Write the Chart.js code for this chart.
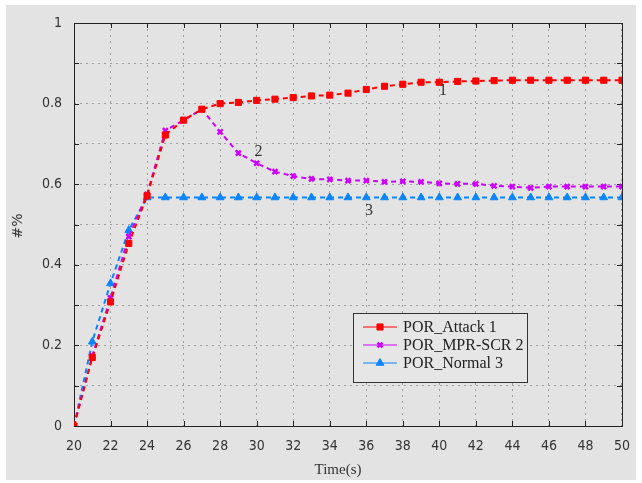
<!DOCTYPE html>
<html>
<head>
<meta charset="utf-8">
<script src="https://cdn.jsdelivr.net/npm/chart.js@4/dist/chart.umd.min.js"></script>
<style>
  html, body { margin: 0; padding: 0; background: #fff; }
  #wrap { width: 642px; height: 483px; position: relative; }
</style>
</head>
<body>
<div id="wrap"><canvas id="area" width="642" height="483"></canvas></div>
<script>
// time axis (s)
var times = [20,21,22,23,24,25,26,27,28,29,30,31,32,33,34,35,36,37,38,39,40,41,42,43,44,45,46,47,48,49,50];
var porAttack = [0,0.170,0.308,0.453,0.571,0.722,0.759,0.786,0.800,0.803,0.808,0.811,0.815,0.819,0.821,0.826,0.835,0.843,0.848,0.853,0.853,0.855,0.856,0.857,0.858,0.858,0.858,0.858,0.858,0.858,0.858];
var porMprScr = [0,0.174,0.318,0.470,0.575,0.733,0.759,0.786,0.730,0.677,0.652,0.631,0.620,0.613,0.612,0.609,0.609,0.606,0.607,0.606,0.602,0.601,0.601,0.596,0.594,0.591,0.594,0.594,0.594,0.594,0.594];
var porNormal = [0,0.209,0.354,0.486,0.567,0.567,0.567,0.567,0.567,0.567,0.567,0.567,0.567,0.567,0.567,0.567,0.567,0.567,0.567,0.567,0.567,0.567,0.567,0.567,0.567,0.567,0.567,0.567,0.567,0.567,0.567];
var seriesNames = ['POR_Attack 1', 'POR_MPR-SCR 2', 'POR_Normal 3'];
// curve number labels: [text, x, y]
var curveTags = [['1', 40.2, 0.831], ['2', 30.1, 0.68], ['3', 36.15, 0.533]];

function pts(ys) {
  return times.map(function (t, i) { return {x: t, y: ys[i]}; });
}

var tickFont = {family: 'DejaVu Sans Condensed, DejaVu Sans', size: 14};
var serif = 'Liberation Serif, DejaVu Serif, serif';

var frame = {
  id: 'frame',
  beforeDraw: function (chart) {
    var c = chart.ctx;
    c.save();
    c.fillStyle = '#e3e3e3';
    c.fillRect(6, 5, 630, 475);
    c.restore();
  },
  beforeDatasetsDraw: function (chart) {
    var c = chart.ctx, a = chart.chartArea;
    var xs = chart.scales.x, ys = chart.scales.y;
    c.save();
    c.strokeStyle = '#222';
    c.lineWidth = 1;
    c.strokeRect(a.left + 0.5, a.top + 0.5, a.right - a.left, a.bottom - a.top);
    c.beginPath();
    for (var v = 0; v <= 10; v++) {
      var py = Math.round(ys.getPixelForValue(v / 10)) + 0.5;
      c.moveTo(a.left, py); c.lineTo(a.left + 5, py);
      c.moveTo(a.right, py); c.lineTo(a.right - 5, py);
    }
    for (var t = 20; t <= 50; t += 2) {
      var px = Math.round(xs.getPixelForValue(t)) + 0.5;
      c.moveTo(px, a.bottom); c.lineTo(px, a.bottom - 5);
      c.moveTo(px, a.top); c.lineTo(px, a.top + 5);
    }
    c.stroke();
    c.restore();
  },
  afterDraw: function (chart) {
    var c = chart.ctx, a = chart.chartArea;
    var xs = chart.scales.x, ys = chart.scales.y;
    c.save();
    c.fillStyle = '#333';
    c.textAlign = 'center';
    c.textBaseline = 'middle';
    c.font = '16px ' + serif;
    curveTags.forEach(function (tg) {
      c.fillText(tg[0], xs.getPixelForValue(tg[1]), ys.getPixelForValue(tg[2]));
    });
    // axis titles
    c.font = '15px ' + serif;
    c.fillText('Time(s)', 338, 470);
    c.font = '14px DejaVu Sans';
    c.translate(18, 226);
    c.rotate(-Math.PI / 2);
    c.fillText('#%', 0, 0);
    c.restore();

    // legend box
    var bx = 353, by = 313, bw = 174, bh = 69;
    c.save();
    c.fillStyle = '#e6e6e6';
    c.fillRect(bx, by, bw, bh);
    c.strokeStyle = '#333';
    c.lineWidth = 1;
    c.strokeRect(bx + 0.5, by + 0.5, bw, bh);
    chart.data.datasets.forEach(function (ds, i) {
      var ly = by + 14 + i * 18;
      c.strokeStyle = ds.borderColor;
      c.lineWidth = 1;
      c.setLineDash([]);
      c.beginPath();
      c.moveTo(bx + 10, ly); c.lineTo(bx + 44, ly);
      c.stroke();
      c.fillStyle = ds.pointBackgroundColor;
      c.lineWidth = ds.pointBorderWidth;
      Chart.helpers.drawPoint(c, {pointStyle: ds.pointStyle, radius: ds.pointRadius, borderWidth: ds.pointBorderWidth, rotation: 0}, bx + 27, ly);
      c.fillStyle = '#222';
      c.font = '16px ' + serif;
      c.textAlign = 'left';
      c.textBaseline = 'middle';
      c.fillText(seriesNames[i], bx + 50, ly + 1);
    });
    c.restore();
  }
};

function lineSet(name, ys, color, style, r) {
  return {
    label: name,
    data: pts(ys),
    borderColor: color,
    backgroundColor: color,
    pointBackgroundColor: color,
    pointBorderColor: color,
    borderWidth: 2,
    borderDash: [5, 4],
    pointStyle: style,
    pointRadius: r,
    pointBorderWidth: style === 'crossRot' ? 2.5 : 1,
    tension: 0
  };
}

var ctx = document.getElementById('area').getContext('2d');
var myChart = new Chart(ctx, {
  type: 'line',
  data: {
    datasets: [
      lineSet(seriesNames[0], porAttack, '#ff0000', 'rect', 4.3),
      lineSet(seriesNames[1], porMprScr, '#cc00ff', 'crossRot', 3.5),
      lineSet(seriesNames[2], porNormal, '#0a84ff', 'triangle', 4.5)
    ]
  },
  plugins: [frame],
  options: {
    responsive: false,
    animation: false,
    layout: {padding: {top: 23, right: 20, left: 0, bottom: 0}},
    plugins: {legend: {display: false}, tooltip: {enabled: false}},
    scales: {
      x: {
        type: 'linear', min: 20, max: 50,
        afterFit: function (s) { s.height = 57; },
        ticks: {stepSize: 2, padding: 12, color: '#333', font: tickFont, maxRotation: 0},
        grid: {color: '#a0a0a0', lineWidth: 1, drawTicks: false},
        border: {display: false, dash: [2, 4]}
      },
      y: {
        min: 0, max: 1,
        afterFit: function (s) { s.width = 74; },
        ticks: {
          stepSize: 0.1, padding: 12, color: '#333', font: tickFont,
          callback: function (v) {
            var k = Math.round(v * 10);
            return k % 2 === 0 ? String(k / 10) : '';
          }
        },
        grid: {color: '#a0a0a0', lineWidth: 1, drawTicks: false},
        border: {display: false, dash: [2, 4]}
      }
    }
  }
});
</script>
</body>
</html>
